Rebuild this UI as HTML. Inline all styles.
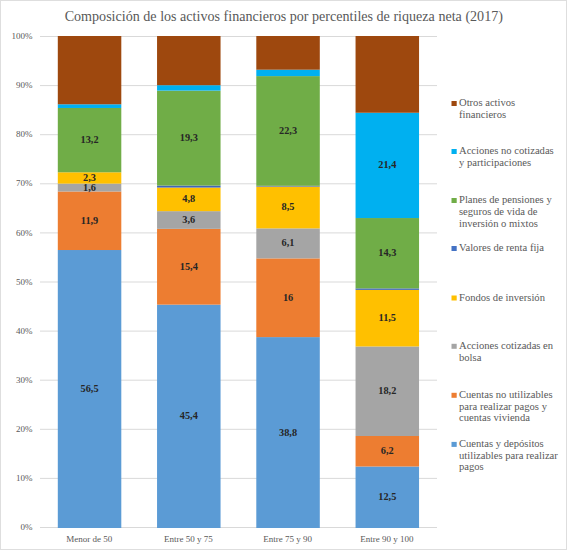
<!DOCTYPE html><html><head><meta charset="utf-8"><style>html,body{margin:0;padding:0;background:#fff}svg{display:block}</style></head><body>
<svg width="567" height="550" viewBox="0 0 567 550" font-family="Liberation Serif">
<rect x="0" y="0" width="567" height="550" fill="#fff"/>
<rect x="0.5" y="0.5" width="566" height="549" fill="none" stroke="#DEDEDE" stroke-width="1"/>
<text x="283.8" y="20.6" font-size="14.1" fill="#595959" text-anchor="middle">Composición de los activos financieros por percentiles de riqueza neta (2017)</text>
<line x1="40" x2="437" y1="527.50" y2="527.50" stroke="#D9D9D9" stroke-width="1"/>
<text x="32.5" y="530.10" font-size="9" fill="#595959" text-anchor="end">0%</text>
<line x1="40" x2="437" y1="478.40" y2="478.40" stroke="#D9D9D9" stroke-width="1"/>
<text x="32.5" y="481.00" font-size="9" fill="#595959" text-anchor="end">10%</text>
<line x1="40" x2="437" y1="429.30" y2="429.30" stroke="#D9D9D9" stroke-width="1"/>
<text x="32.5" y="431.90" font-size="9" fill="#595959" text-anchor="end">20%</text>
<line x1="40" x2="437" y1="380.20" y2="380.20" stroke="#D9D9D9" stroke-width="1"/>
<text x="32.5" y="382.80" font-size="9" fill="#595959" text-anchor="end">30%</text>
<line x1="40" x2="437" y1="331.10" y2="331.10" stroke="#D9D9D9" stroke-width="1"/>
<text x="32.5" y="333.70" font-size="9" fill="#595959" text-anchor="end">40%</text>
<line x1="40" x2="437" y1="282.00" y2="282.00" stroke="#D9D9D9" stroke-width="1"/>
<text x="32.5" y="284.60" font-size="9" fill="#595959" text-anchor="end">50%</text>
<line x1="40" x2="437" y1="232.90" y2="232.90" stroke="#D9D9D9" stroke-width="1"/>
<text x="32.5" y="235.50" font-size="9" fill="#595959" text-anchor="end">60%</text>
<line x1="40" x2="437" y1="183.80" y2="183.80" stroke="#D9D9D9" stroke-width="1"/>
<text x="32.5" y="186.40" font-size="9" fill="#595959" text-anchor="end">70%</text>
<line x1="40" x2="437" y1="134.70" y2="134.70" stroke="#D9D9D9" stroke-width="1"/>
<text x="32.5" y="137.30" font-size="9" fill="#595959" text-anchor="end">80%</text>
<line x1="40" x2="437" y1="85.60" y2="85.60" stroke="#D9D9D9" stroke-width="1"/>
<text x="32.5" y="88.20" font-size="9" fill="#595959" text-anchor="end">90%</text>
<line x1="40" x2="437" y1="36.50" y2="36.50" stroke="#D9D9D9" stroke-width="1"/>
<text x="32.5" y="39.10" font-size="9" fill="#595959" text-anchor="end">100%</text>
<rect x="57.80" y="250.02" width="63.5" height="277.98" fill="#5B9BD5"/>
<rect x="57.80" y="191.47" width="63.5" height="58.55" fill="#ED7D31"/>
<rect x="57.80" y="183.60" width="63.5" height="7.87" fill="#A5A5A5"/>
<rect x="57.80" y="172.28" width="63.5" height="11.32" fill="#FFC000"/>
<rect x="57.80" y="107.98" width="63.5" height="64.30" fill="#70AD47"/>
<rect x="57.80" y="104.29" width="63.5" height="3.69" fill="#00B0F0"/>
<rect x="57.80" y="36.00" width="63.5" height="68.29" fill="#9E480E"/>
<text x="89.55" y="392.01" font-size="10.3" font-weight="bold" fill="#262626" text-anchor="middle">56,5</text>
<text x="89.55" y="223.75" font-size="10.3" font-weight="bold" fill="#262626" text-anchor="middle">11,9</text>
<text x="89.55" y="190.54" font-size="10.3" font-weight="bold" fill="#262626" text-anchor="middle">1,6</text>
<text x="89.55" y="180.94" font-size="10.3" font-weight="bold" fill="#262626" text-anchor="middle">2,3</text>
<text x="89.55" y="143.13" font-size="10.3" font-weight="bold" fill="#262626" text-anchor="middle">13,2</text>
<text x="89.15" y="541.6" font-size="9" fill="#595959" text-anchor="middle">Menor de 50</text>
<rect x="157.05" y="304.63" width="63.5" height="223.37" fill="#5B9BD5"/>
<rect x="157.05" y="228.86" width="63.5" height="75.77" fill="#ED7D31"/>
<rect x="157.05" y="211.15" width="63.5" height="17.71" fill="#A5A5A5"/>
<rect x="157.05" y="187.54" width="63.5" height="23.62" fill="#FFC000"/>
<rect x="157.05" y="185.57" width="63.5" height="1.97" fill="#4066B8"/>
<rect x="157.05" y="90.61" width="63.5" height="94.96" fill="#70AD47"/>
<rect x="157.05" y="85.20" width="63.5" height="5.41" fill="#00B0F0"/>
<rect x="157.05" y="36.00" width="63.5" height="49.20" fill="#9E480E"/>
<text x="188.80" y="419.32" font-size="10.3" font-weight="bold" fill="#262626" text-anchor="middle">45,4</text>
<text x="188.80" y="269.75" font-size="10.3" font-weight="bold" fill="#262626" text-anchor="middle">15,4</text>
<text x="188.80" y="223.01" font-size="10.3" font-weight="bold" fill="#262626" text-anchor="middle">3,6</text>
<text x="188.80" y="202.34" font-size="10.3" font-weight="bold" fill="#262626" text-anchor="middle">4,8</text>
<text x="188.80" y="141.09" font-size="10.3" font-weight="bold" fill="#262626" text-anchor="middle">19,3</text>
<text x="188.40" y="541.6" font-size="9" fill="#595959" text-anchor="middle">Entre 50 y 75</text>
<rect x="256.30" y="337.10" width="63.5" height="190.90" fill="#5B9BD5"/>
<rect x="256.30" y="258.38" width="63.5" height="78.72" fill="#ED7D31"/>
<rect x="256.30" y="228.37" width="63.5" height="30.01" fill="#A5A5A5"/>
<rect x="256.30" y="186.55" width="63.5" height="41.82" fill="#FFC000"/>
<rect x="256.30" y="185.81" width="63.5" height="0.74" fill="#4066B8"/>
<rect x="256.30" y="76.10" width="63.5" height="109.72" fill="#70AD47"/>
<rect x="256.30" y="69.70" width="63.5" height="6.40" fill="#00B0F0"/>
<rect x="256.30" y="36.00" width="63.5" height="33.70" fill="#9E480E"/>
<text x="288.05" y="435.55" font-size="10.3" font-weight="bold" fill="#262626" text-anchor="middle">38,8</text>
<text x="288.05" y="300.74" font-size="10.3" font-weight="bold" fill="#262626" text-anchor="middle">16</text>
<text x="288.05" y="246.38" font-size="10.3" font-weight="bold" fill="#262626" text-anchor="middle">6,1</text>
<text x="288.05" y="210.46" font-size="10.3" font-weight="bold" fill="#262626" text-anchor="middle">8,5</text>
<text x="288.05" y="133.96" font-size="10.3" font-weight="bold" fill="#262626" text-anchor="middle">22,3</text>
<text x="287.65" y="541.6" font-size="9" fill="#595959" text-anchor="middle">Entre 75 y 90</text>
<rect x="355.55" y="466.50" width="63.5" height="61.50" fill="#5B9BD5"/>
<rect x="355.55" y="436.00" width="63.5" height="30.50" fill="#ED7D31"/>
<rect x="355.55" y="346.45" width="63.5" height="89.54" fill="#A5A5A5"/>
<rect x="355.55" y="289.87" width="63.5" height="56.58" fill="#FFC000"/>
<rect x="355.55" y="288.40" width="63.5" height="1.48" fill="#4066B8"/>
<rect x="355.55" y="218.04" width="63.5" height="70.36" fill="#70AD47"/>
<rect x="355.55" y="112.75" width="63.5" height="105.29" fill="#00B0F0"/>
<rect x="355.55" y="36.00" width="63.5" height="76.75" fill="#9E480E"/>
<text x="387.30" y="500.25" font-size="10.3" font-weight="bold" fill="#262626" text-anchor="middle">12,5</text>
<text x="387.30" y="454.25" font-size="10.3" font-weight="bold" fill="#262626" text-anchor="middle">6,2</text>
<text x="387.30" y="394.22" font-size="10.3" font-weight="bold" fill="#262626" text-anchor="middle">18,2</text>
<text x="387.30" y="321.16" font-size="10.3" font-weight="bold" fill="#262626" text-anchor="middle">11,5</text>
<text x="387.30" y="256.22" font-size="10.3" font-weight="bold" fill="#262626" text-anchor="middle">14,3</text>
<text x="387.30" y="168.40" font-size="10.3" font-weight="bold" fill="#262626" text-anchor="middle">21,4</text>
<text x="386.90" y="541.6" font-size="9" fill="#595959" text-anchor="middle">Entre 90 y 100</text>
<rect x="451.5" y="101.00" width="5.2" height="5" fill="#9E480E"/>
<text x="459" y="106.10" font-size="10.6" fill="#595959">Otros activos</text>
<text x="459" y="117.80" font-size="10.6" fill="#595959">financieros</text>
<rect x="451.5" y="149.00" width="5.2" height="5" fill="#00B0F0"/>
<text x="459" y="154.10" font-size="10.6" fill="#595959">Acciones no cotizadas</text>
<text x="459" y="165.80" font-size="10.6" fill="#595959">y participaciones</text>
<rect x="451.5" y="198.00" width="5.2" height="5" fill="#70AD47"/>
<text x="459" y="203.10" font-size="10.6" fill="#595959">Planes de pensiones y</text>
<text x="459" y="214.80" font-size="10.6" fill="#595959">seguros de vida de</text>
<text x="459" y="226.50" font-size="10.6" fill="#595959">inversión o mixtos</text>
<rect x="451.5" y="246.00" width="5.2" height="5" fill="#4472C4"/>
<text x="459" y="251.10" font-size="10.6" fill="#595959">Valores de renta fija</text>
<rect x="451.5" y="295.50" width="5.2" height="5" fill="#FFC000"/>
<text x="459" y="300.60" font-size="10.6" fill="#595959">Fondos de inversión</text>
<rect x="451.5" y="343.80" width="5.2" height="5" fill="#A5A5A5"/>
<text x="459" y="348.90" font-size="10.6" fill="#595959">Acciones cotizadas en</text>
<text x="459" y="360.60" font-size="10.6" fill="#595959">bolsa</text>
<rect x="451.5" y="392.80" width="5.2" height="5" fill="#ED7D31"/>
<text x="459" y="397.90" font-size="10.6" fill="#595959">Cuentas no utilizables</text>
<text x="459" y="409.60" font-size="10.6" fill="#595959">para realizar pagos y</text>
<text x="459" y="421.30" font-size="10.6" fill="#595959">cuentas vivienda</text>
<rect x="451.5" y="441.90" width="5.2" height="5" fill="#5B9BD5"/>
<text x="459" y="447.00" font-size="10.6" fill="#595959">Cuentas y depósitos</text>
<text x="459" y="458.70" font-size="10.6" fill="#595959">utilizables para realizar</text>
<text x="459" y="470.40" font-size="10.6" fill="#595959">pagos</text>
</svg></body></html>
